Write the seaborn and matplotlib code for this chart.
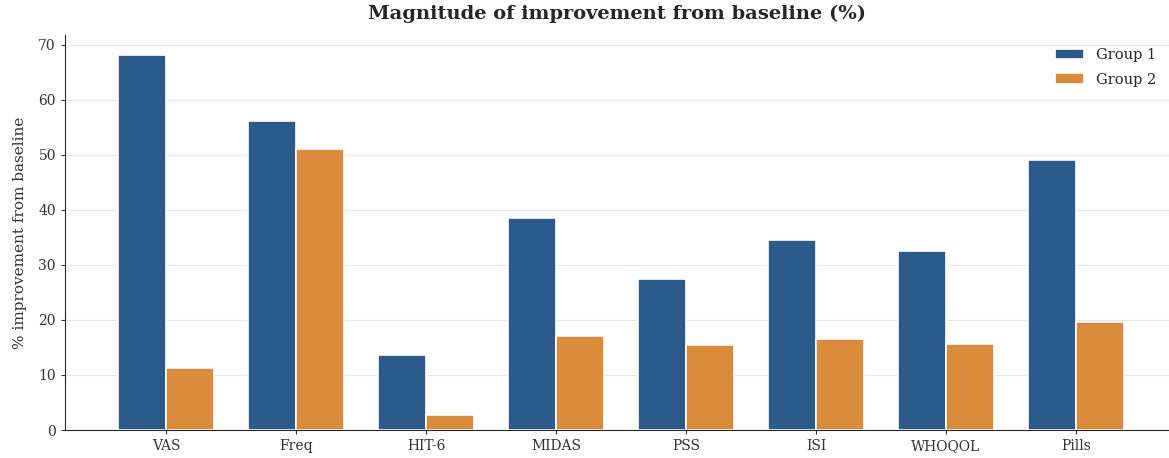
import pandas as pd
import numpy as np
import matplotlib
matplotlib.use("Agg")
import matplotlib.pyplot as plt
import seaborn as sns

measures = ["VAS", "Freq", "HIT-6", "MIDAS", "PSS", "ISI", "WHOQOL", "Pills"]
group1 = [68.2, 56.1, 13.7, 38.6, 27.5, 34.6, 32.6, 49.0]
group2 = [11.3, 51.0, 2.7, 17.0, 15.5, 16.6, 15.7, 19.7]
groups = ["Group 1", "Group 2"]
colors = ["#2c5b8b", "#d98a3b"]


def main() -> None:
    sns.set_style("white")
    plt.rcParams["font.family"] = ["DejaVu Serif"]

    df = pd.DataFrame({
        "measure": measures * 2,
        "value": group1 + group2,
        "group": [groups[0]] * len(measures) + [groups[1]] * len(measures),
    })

    fig = plt.figure(figsize=(11.69, 4.58), dpi=100)
    ax = fig.add_axes([0.0556, 0.061, 0.9444, 0.862])
    sns.barplot(data=df, x="measure", y="value", hue="group", palette=colors,
                saturation=1, width=0.74, edgecolor="white", linewidth=1.2, ax=ax)

    ax.set_xlim(-0.777, 7.715)
    ax.set_ylim(0, 71.7)
    ax.set_yticks(range(0, 71, 10))
    ax.yaxis.grid(True, color="#e8e8e8", linewidth=0.8)
    ax.set_axisbelow(True)
    sns.despine(ax=ax)
    ax.tick_params(axis="both", which="both", length=3, labelsize=10, colors="#333333",
                   left=True, bottom=True)
    ax.set_xlabel("")
    ax.set_ylabel("% improvement from baseline", fontsize=11, color="#333333",
                  labelpad=8)
    ax.set_title("Magnitude of improvement from baseline (%)", fontsize=14,
                 fontweight="bold", pad=12)
    ax.legend(title=None, frameon=False, loc="upper right", fontsize=10.5,
              labelspacing=0.7, bbox_to_anchor=(1.0, 1.0))

    fig.savefig("out.png", dpi=100)


if __name__ == "__main__":
    main()
